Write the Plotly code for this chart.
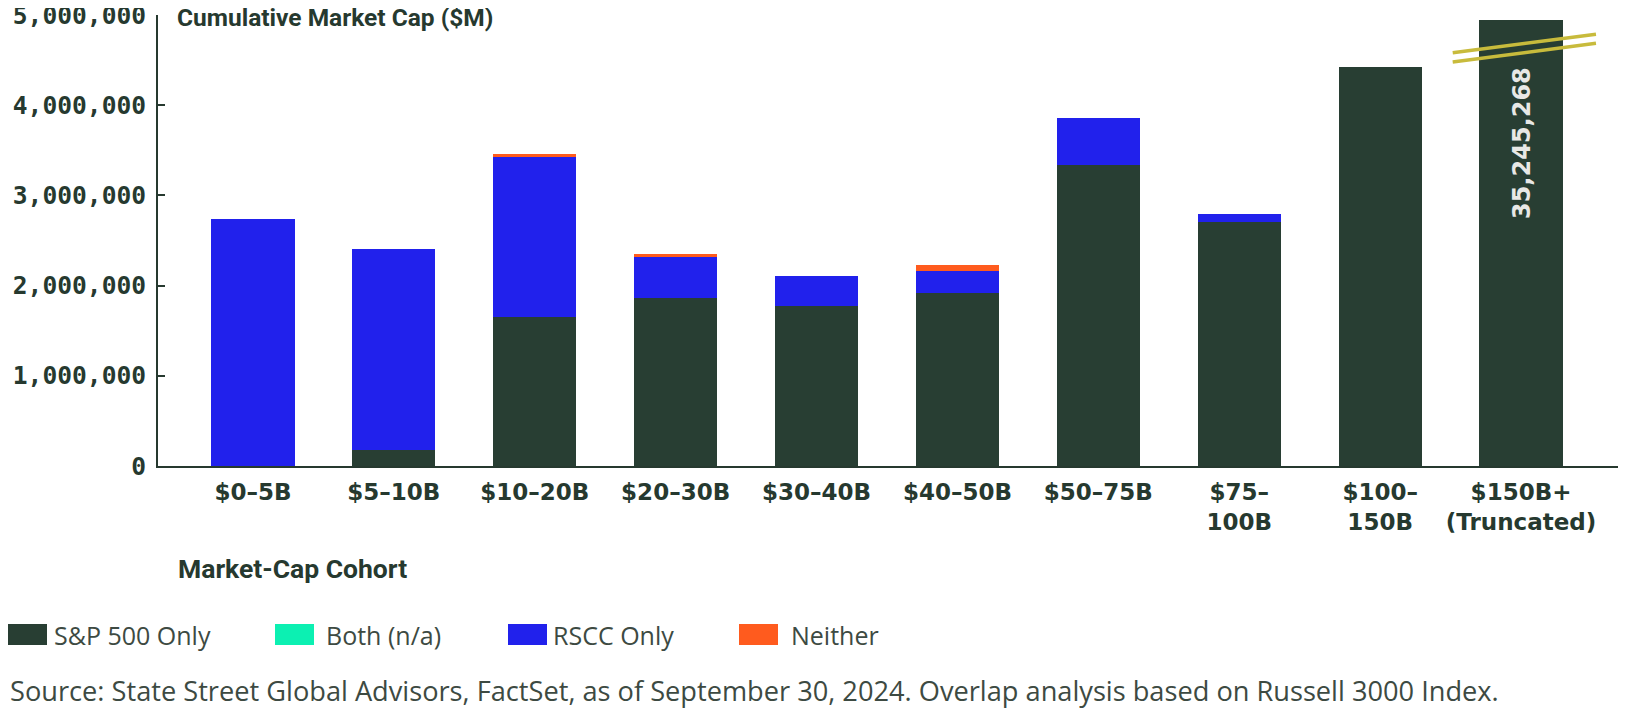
import plotly.graph_objects as go

# ---------------- data ----------------
categories = ["$0-5B", "$5-10B", "$10-20B", "$20-30B", "$30-40B", "$40-50B",
              "$50-75B", "$75-100B", "$100-150B", "$150B+"]
tick_labels = ["$0–5B", "$5–10B", "$10–20B", "$20–30B", "$30–40B", "$40–50B",
               "$50–75B", "$75–<br>100B", "$100–<br>150B", "$150B+<br>(Truncated)"]
sp500_only = [0, 177000, 1649000, 1863000, 1774000, 1921000, 3334000, 2705000, 4424000, 35245268]
both_na = [0, 0, 0, 0, 0, 0, 0, 0, 0, 0]
rscc_only = [2738000, 2229000, 1780000, 454000, 332000, 241000, 521000, 92000, 0, 0]
neither = [0, 0, 30000, 33000, 0, 67000, 0, 0, 0, 0]
y_ticks = [0, 1000000, 2000000, 3000000, 4000000, 5000000]
truncate_at = 4945000  # axis break level for the $150B+ bar
series_names = ["S&P 500 Only", "Both (n/a)", "RSCC Only", "Neither"]

# ---------------- style ----------------
C_SP = "#283e33"
C_BOTH = "#0cf0b2"
C_RSCC = "#2121ec"
C_NEI = "#ff5b1e"
C_TXT = "#26392f"
C_SRC = "#3d4a42"
C_BREAK = "#c8bb3c"

OFF = 8  # default page margin of the html body
W, H = 1626 - OFF, 708 - OFF
L, T = 158 - OFF, 15 - OFF
R = 0
B = H - (466 - OFF)
plot_w = W - L - R
plot_h = H - T - B


def px(x):
    """page pixel x -> paper x"""
    return (x - OFF - L) / plot_w


def py(y):
    """page pixel y -> paper y"""
    return (H - B - (y - OFF)) / plot_h


sp_display = [min(v, truncate_at) for v in sp500_only]

fig = go.Figure()
colors = [C_SP, C_BOTH, C_RSCC, C_NEI]
for name, vals, col in zip(series_names, [sp_display, both_na, rscc_only, neither], colors):
    fig.add_trace(go.Bar(
        x=categories, y=vals, name=name,
        marker=dict(color=col, line=dict(width=0)),
        showlegend=False, hoverinfo="skip",
    ))

fig.update_layout(
    barmode="stack",
    bargap=0.41,
    width=W, height=H,
    margin=dict(l=L, r=R, t=T, b=B, autoexpand=False),
    paper_bgcolor="white",
    plot_bgcolor="white",
    font=dict(family="Roboto", color=C_TXT),
)

fig.update_xaxes(
    type="category",
    range=[-0.674, 9.745],
    tickvals=categories,
    ticktext=tick_labels,
    tickfont=dict(family="DejaVu Sans", size=23, color=C_TXT, weight="bold"),
    showline=True, linecolor=C_TXT, linewidth=2,
    ticks="", showgrid=False, zeroline=False,
    ticklabelstandoff=4,
    automargin=False,
)
fig.update_yaxes(
    range=[0, 5000000],
    tickvals=y_ticks,
    tickformat=",d",
    tickfont=dict(family="DejaVu Sans Mono", size=24.6, color=C_TXT, weight="bold"),
    showline=True, linecolor=C_TXT, linewidth=2,
    ticks="inside", ticklen=7, tickwidth=2, tickcolor=C_TXT,
    showgrid=False, zeroline=False,
    ticklabelstandoff=5,
    ticklabeloverflow="allow",
    automargin=False,
)

# title of y axis (top-left)
fig.add_annotation(text="<b>Cumulative Market Cap ($M)</b>", xref="paper", yref="paper",
                   x=px(175), y=py(18), xanchor="left", yanchor="middle", showarrow=False,
                   font=dict(family="Roboto", size=24.5, color=C_TXT))
# x axis title
fig.add_annotation(text="<b>Market-Cap Cohort</b>", xref="paper", yref="paper",
                   x=px(176), y=py(568), xanchor="left", yanchor="middle", showarrow=False,
                   font=dict(family="Roboto", size=26.5, color=C_TXT))

# truncated value label inside last bar
fig.add_annotation(text="<b>35,245,268</b>", x=categories[-1], y=(466 - 143) / 451 * 5000000,
                   xref="x", yref="y", textangle=-90, showarrow=False, xshift=1,
                   font=dict(family="DejaVu Sans", size=24, color="#e8e8e6"))

# axis-break marks
for dy in (0, 1):
    y0 = 4582000 - dy * 103000
    y1 = 4786000 - dy * 100000
    fig.add_shape(type="line", xref="x", yref="y", x0=8.515, x1=9.532, y0=y0, y1=y1,
                  line=dict(color=C_BREAK, width=3.5))

# custom legend
legend_pos = [(8, 52, 39), (275, 324, 39), (508, 551, 39), (739, 789, 39)]
for (sx, tx, sw), name, col in zip(legend_pos, series_names, colors):
    fig.add_shape(type="rect", xref="paper", yref="paper",
                  x0=px(sx), x1=px(sx + sw), y0=py(645), y1=py(624),
                  fillcolor=col, line=dict(width=0))
    fig.add_annotation(text=name, xref="paper", yref="paper", x=px(tx), y=py(635),
                       xanchor="left", yanchor="middle", showarrow=False,
                       font=dict(family="Open Sans", size=25, color=C_SRC))

# source
fig.add_annotation(
    text="Source: State Street Global Advisors, FactSet, as of September 30, 2024. Overlap analysis based on Russell 3000 Index.",
    xref="paper", yref="paper", x=px(8), y=py(690), xanchor="left", yanchor="middle",
    showarrow=False, font=dict(family="Open Sans", size=27.2, color=C_SRC))

fig.write_html("out.html")
